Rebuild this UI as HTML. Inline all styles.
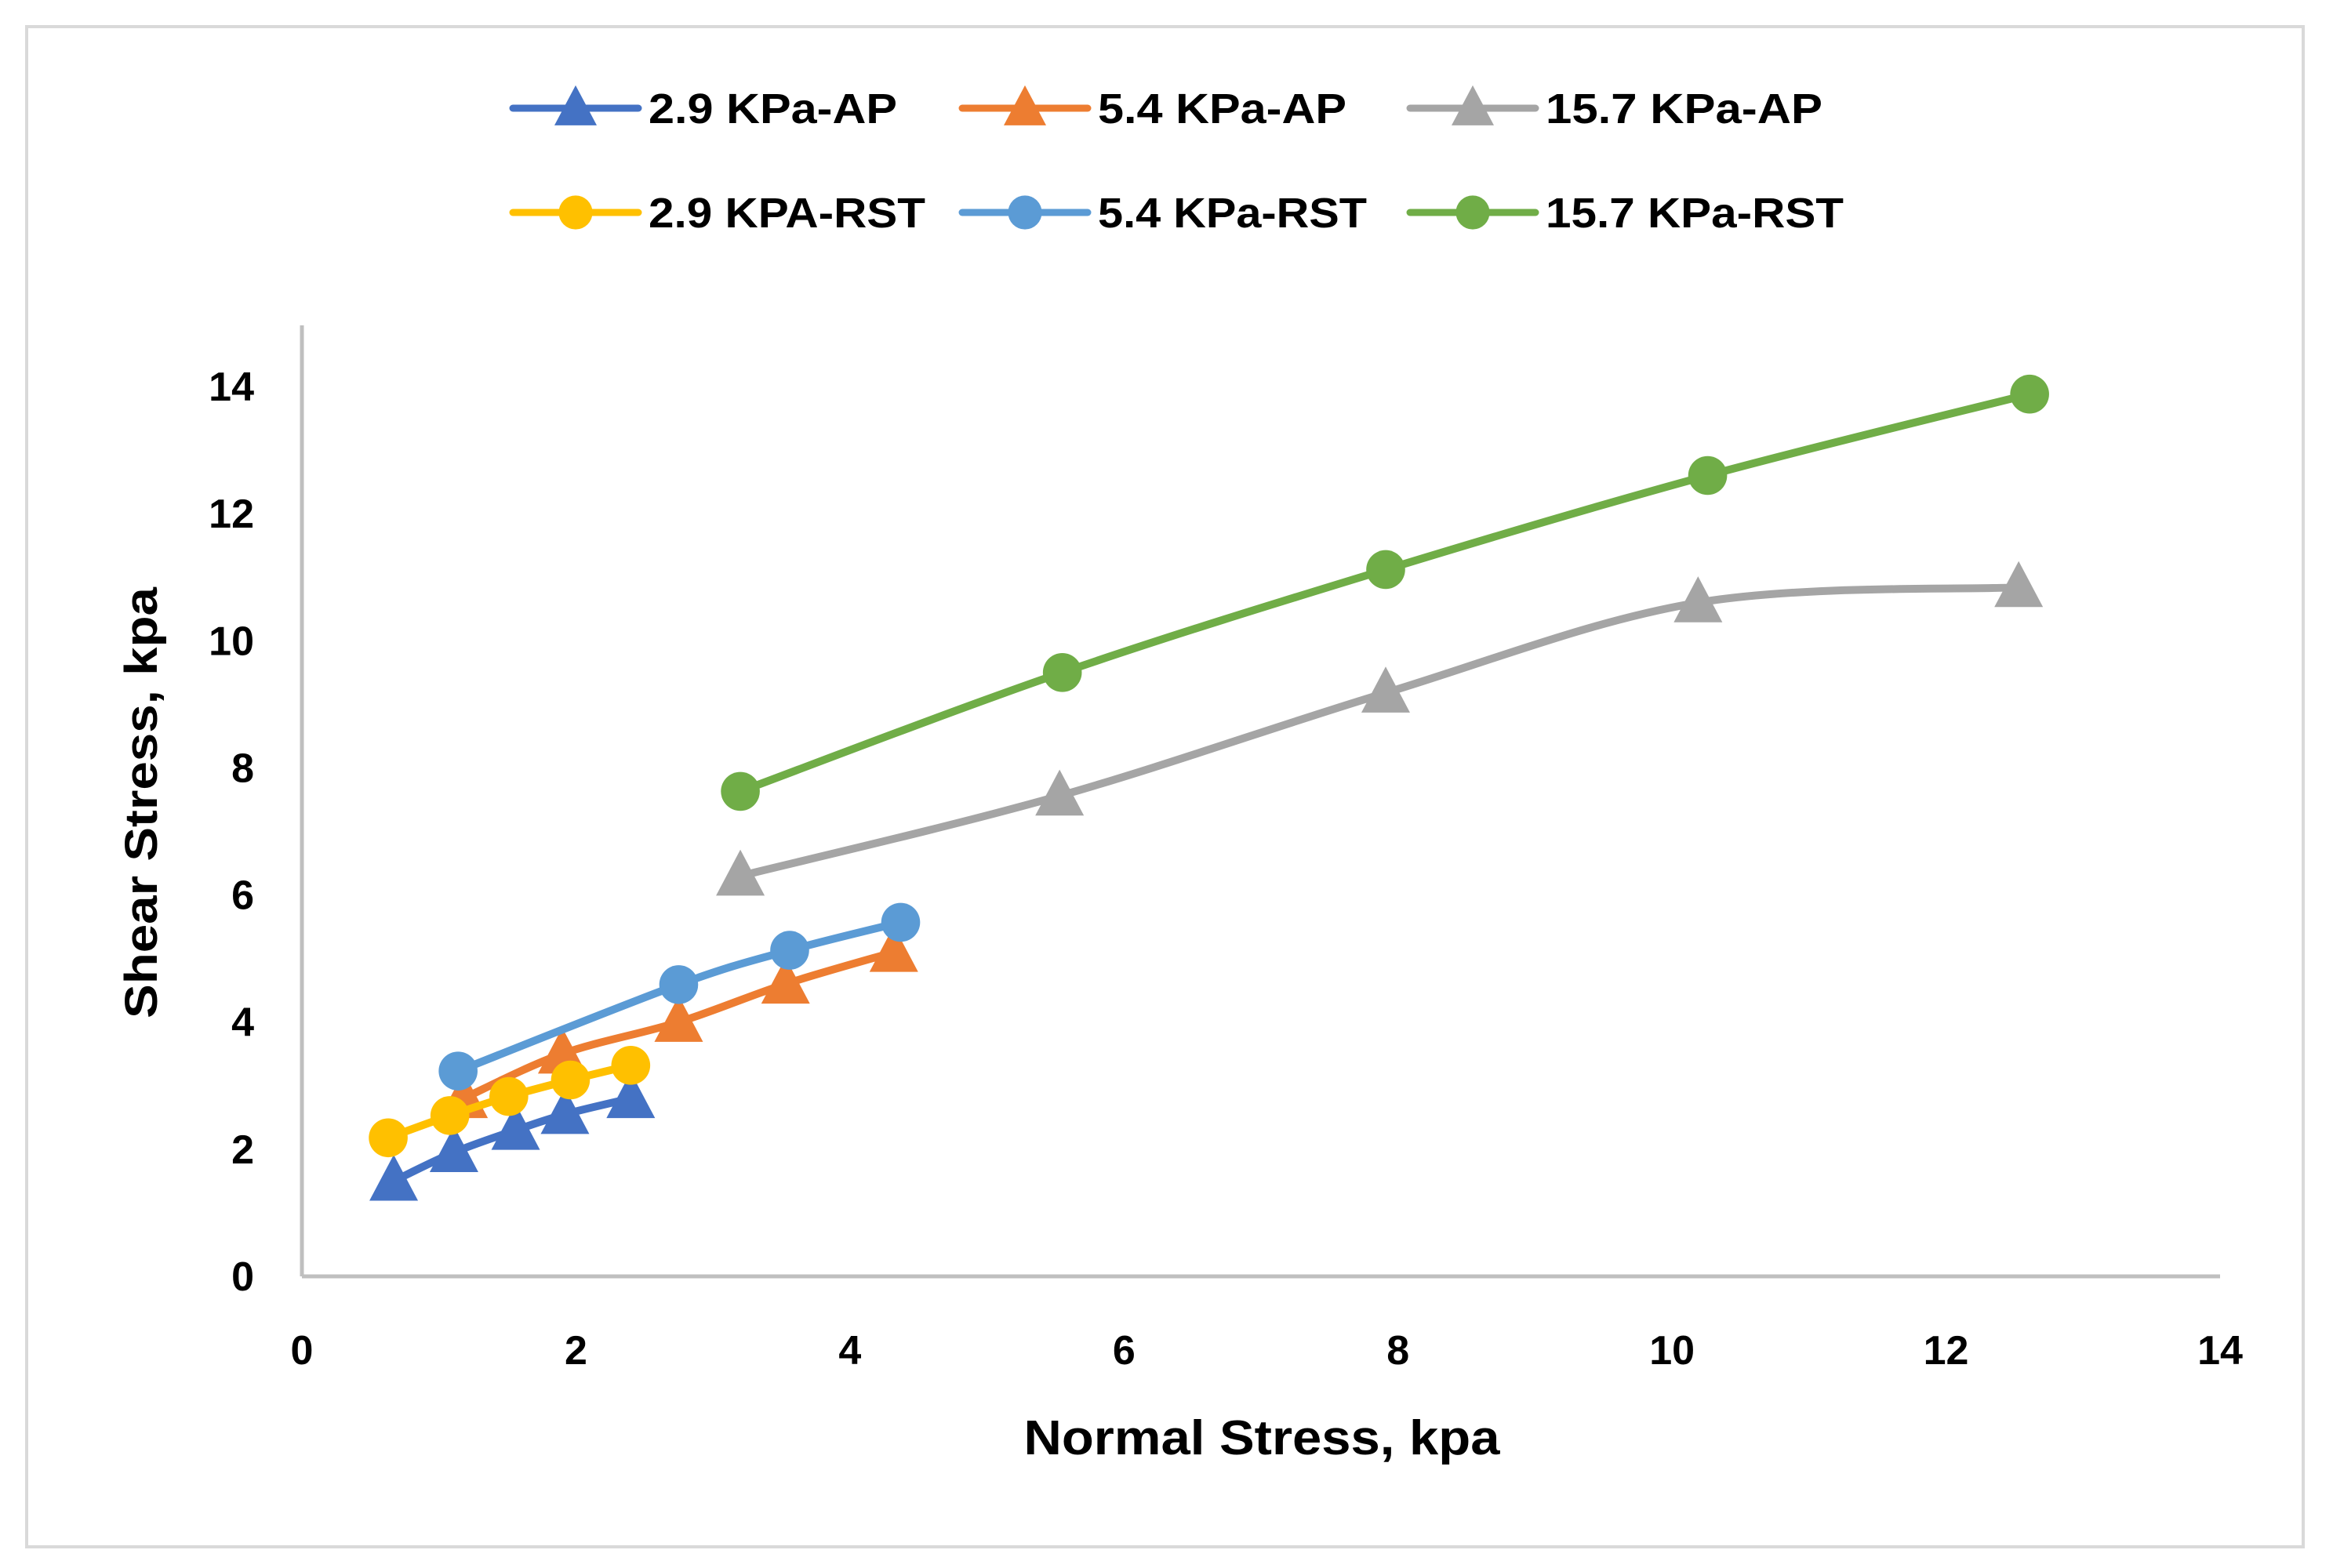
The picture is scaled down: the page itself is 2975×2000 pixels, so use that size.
<!DOCTYPE html>
<html><head><meta charset="utf-8"><style>
html,body{margin:0;padding:0;background:#fff;}
svg{display:block;font-family:"Liberation Sans",sans-serif;font-weight:bold;}
</style></head><body>
<svg id="chart" width="2975" height="2000" viewBox="0 0 2975 2000" xmlns="http://www.w3.org/2000/svg">
<rect x="34" y="34" width="2903" height="1939" fill="#fff" stroke="#d9d9d9" stroke-width="4"/>
<g id="axes"></g>
<g id="series"></g>
<g id="legend"></g>
<text x="0" y="0" transform="translate(200,1024) rotate(-90)" text-anchor="middle" font-size="58" textLength="550" lengthAdjust="spacingAndGlyphs">Shear Stress, kpa</text>
<text x="1609" y="1855" text-anchor="middle" font-size="62" textLength="607" lengthAdjust="spacingAndGlyphs">Normal Stress, kpa</text>
</svg>
<script>
const xTicks=[0,2,4,6,8,10,12,14];
const yTicks=[0,2,4,6,8,10,12,14];
const seriesNames=["2.9 KPa-AP","5.4 KPa-AP","15.7 KPa-AP","2.9 KPA-RST","5.4 KPa-RST","15.7 KPa-RST"];
const ap29X=[0.67,1.11,1.56,1.92,2.40];
const ap29Y=[1.5,1.95,2.3,2.55,2.8];
const ap54X=[1.18,1.9,2.75,3.53,4.32];
const ap54Y=[2.8,3.5,4.0,4.6,5.1];
const ap157X=[3.2,5.53,7.91,10.19,12.53];
const ap157Y=[6.3,7.56,9.18,10.6,10.84];
const rst29X=[0.63,1.08,1.51,1.96,2.4];
const rst29Y=[2.18,2.53,2.83,3.09,3.32];
const rst54X=[1.14,2.75,3.56,4.37];
const rst54Y=[3.23,4.59,5.13,5.57];
const rst157X=[3.2,5.55,7.91,10.26,12.61];
const rst157Y=[7.63,9.5,11.12,12.6,13.88];

const NS="http://www.w3.org/2000/svg";
const X0=385,X1=2831,Y0=1628,Y1=493;
const sx=v=>X0+(X1-X0)*v/14;
const sy=v=>Y0-(Y0-Y1)*v/14;
function mk(tag,attrs,parent){const e=document.createElementNS(NS,tag);for(const k in attrs)e.setAttribute(k,attrs[k]);parent.appendChild(e);return e;}
const axes=document.getElementById('axes');
let a=mk('line',{x1:X0,y1:Y1-78,x2:X0,y2:Y0,stroke:'#bfbfbf','stroke-width':5},axes);


a=mk('line',{x1:X0,y1:Y0,x2:X1,y2:Y0,stroke:'#bfbfbf','stroke-width':5},axes);


xTicks.forEach(t=>{const e=mk('text',{x:sx(t),y:1740,'text-anchor':'middle','font-size':52},axes);e.textContent=t;

});
yTicks.forEach(t=>{const e=mk('text',{x:324,y:sy(t)+18,'text-anchor':'end','font-size':52},axes);e.textContent=t;

});

const colors=["#4472c4","#ed7d31","#a5a5a5","#ffc000","#5b9bd5","#70ad47"];
const shapes=["tri","tri","tri","circ","circ","circ"];
const data=[[ap29X,ap29Y],[ap54X,ap54Y],[ap157X,ap157Y],[rst29X,rst29Y],[rst54X,rst54Y],[rst157X,rst157Y]];
function smooth(p){let d=`M${p[0][0]},${p[0][1]}`;for(let i=0;i<p.length-1;i++){const p0=p[i-1]||p[i],p1=p[i],p2=p[i+1],p3=p[i+2]||p2;const t=1/6;
d+=` C${p1[0]+(p2[0]-p0[0])*t},${p1[1]+(p2[1]-p0[1])*t} ${p2[0]-(p3[0]-p1[0])*t},${p2[1]-(p3[1]-p1[1])*t} ${p2[0]},${p2[1]}`;}return d;}
function marker(shape,x,y,c,parent,size){if(shape==='tri'){const h=size*0.9;return mk('path',{d:`M${x},${y-h*0.6} L${x+size/2},${y+h*0.45} L${x-size/2},${y+h*0.45}Z`,fill:c},parent);}return mk('circle',{cx:x,cy:y,r:size/2.5,fill:c},parent);}
const sg=document.getElementById('series');
data.forEach((d,i)=>{const g=mk('g',{},sg);


const pts=d[0].map((v,j)=>[sx(v),sy(d[1][j])]);
const p=mk('path',{d:smooth(pts),fill:'none',stroke:colors[i],'stroke-width':10,'stroke-linecap':'round'},g);


pts.forEach(q=>{const m=marker(shapes[i],q[0],q[1],colors[i],g,62);

});});

const lg=document.getElementById('legend');
const colX=[654,1227,1798],rowY=[138,271];
const widths=[317,317,353,353,343,380];
seriesNames.forEach((n,i)=>{const cx=colX[i%3],cy=rowY[Math.floor(i/3)];const g=mk('g',{},lg);


mk('line',{x1:cx,y1:cy,x2:cx+160,y2:cy,stroke:colors[i],'stroke-width':9,'stroke-linecap':'round'},g);
marker(shapes[i],cx+80,cy,colors[i],g,54);
const t=mk('text',{x:cx+173,y:cy+19,'font-size':54,textLength:widths[i],lengthAdjust:'spacingAndGlyphs'},g);t.textContent=n;});
</script>
</body></html>
